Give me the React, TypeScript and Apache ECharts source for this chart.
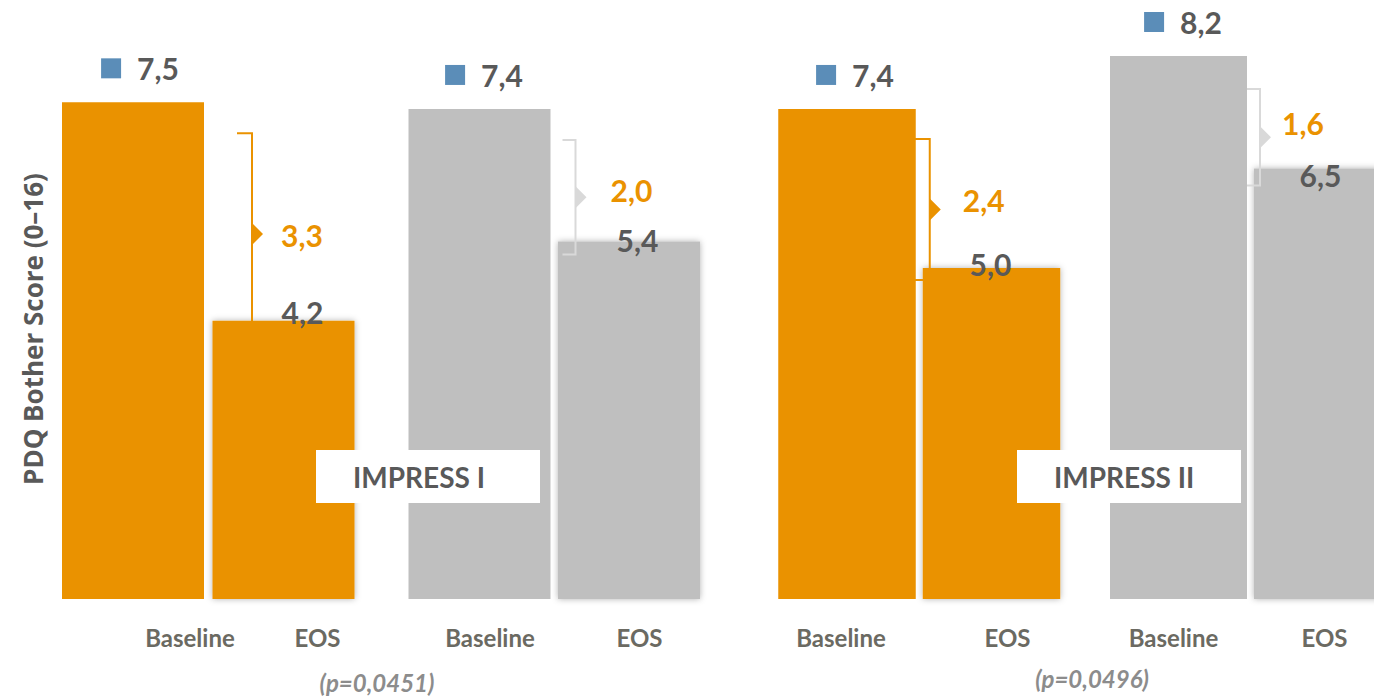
import React, { useEffect, useRef } from "react";
import * as echarts from "echarts";

// ---------- data ----------
const categories = ["Baseline", "EOS"];
const studyNames = ["IMPRESS I", "IMPRESS II"];
const pValueLabels = ["(p=0,0451)", "(p=0,0496)"];
const impress1Orange = [7.5, 4.2];
const impress1Gray = [7.4, 5.4];
const impress2Orange = [7.4, 5.0];
const impress2Gray = [8.2, 6.5];
const reductions = [3.3, 2.0, 2.4, 1.6];
const yAxisTitle = "PDQ Bother Score (0–16)";
const yMin = 0;
const yMax = 9;

// ---------- styles ----------
const ORANGE = "#EA9200";
const GRAY = "#BFBFBF";
const BLUE = "#5B8DB8";
const DARK = "#595959";
const LABEL = "#6B6A62";
const BRACKET_GRAY = "#D9D9D9";
const FONT = "Lato, 'Noto Sans', sans-serif";

const fmt = (v: number) => v.toFixed(1).replace(".", ",");

// grid spans from the first category centre to the second (boundaryGap: false)
const pairs = [
  {
    data: impress1Orange, color: ORANGE, bracketColor: ORANGE,
    left: 133, width: 150.5, barWidth: 142,
    axisLabelDx: [57, 34], baseLabelDx: 7, eosLabelOffset: [19, -9],
    br: { dx: 48, tick: 15, topPad: 31, bottomPad: 14, labelDx: 18, labelDy: 1 },
  },
  {
    data: impress1Gray, color: GRAY, bracketColor: BRACKET_GRAY,
    left: 479.5, width: 149.5, barWidth: 142,
    axisLabelDx: [10.5, 10.5], baseLabelDx: 4.5, eosLabelOffset: [8.5, -1],
    br: { dx: 25, tick: 13, topPad: 31, bottomPad: 13, labelDx: 24, labelDy: -7 },
  },
  {
    data: impress2Orange, color: ORANGE, bracketColor: ORANGE,
    left: 847, width: 144.5, barWidth: 137.5,
    axisLabelDx: [-6, 16], baseLabelDx: 8, eosLabelOffset: [-1, -3.5],
    br: { dx: 14, tick: 15, topPad: 30, bottomPad: 12, labelDx: 22, labelDy: -9 },
  },
  {
    data: impress2Gray, color: GRAY, bracketColor: BRACKET_GRAY,
    left: 1178.5, width: 144, barWidth: 137,
    axisLabelDx: [-5, 2], baseLabelDx: 4.5, eosLabelOffset: [-2, 6.5],
    br: { dx: 13, tick: 13, topPad: 33, bottomPad: 17, labelDx: 11, labelDy: -14 },
  },
];

const boxes = [
  { x: 316, y: 450, w: 224, h: 53, textX: 353 },
  { x: 1017, y: 450, w: 224, h: 53, textX: 1054 },
];
const pValuePos = [
  { x: 377, y: 682 },
  { x: 1092, y: 678 },
];

const pad = (dx: number) => (dx >= 0 ? [0, 0, 0, 2 * dx] : [0, -2 * dx, 0, 0]);

export default function App() {
  const ref = useRef<HTMLDivElement>(null);

  useEffect(() => {
    if (!ref.current) return;
    const chart = echarts.init(ref.current, undefined, { renderer: "svg" });

    const axisLabelStyle = {
      fontFamily: FONT, fontWeight: "bold" as const, fontSize: 24, color: LABEL,
    };

    const grids = pairs.map((p) => ({
      left: p.left, width: p.width, top: 3, bottom: 98, containLabel: false,
    }));

    const xAxes = pairs.map((p, gi) => ({
      type: "category" as const,
      gridIndex: gi,
      data: categories,
      boundaryGap: false,
      axisLine: { show: false },
      axisTick: { show: false },
      splitLine: { show: false },
      axisLabel: {
        interval: 0,
        margin: 26,
        formatter: (v: string, i: number) => `{l${i}|${v}}`,
        rich: {
          l0: { ...axisLabelStyle, padding: pad(p.axisLabelDx[0]) },
          l1: { ...axisLabelStyle, padding: pad(p.axisLabelDx[1]) },
        },
      },
    }));

    const yAxes = pairs.map((p, gi) => ({
      type: "value" as const,
      gridIndex: gi,
      min: yMin,
      max: yMax,
      show: gi === 0,
      axisLine: { show: false },
      axisTick: { show: false },
      axisLabel: { show: false },
      splitLine: { show: false },
      name: gi === 0 ? yAxisTitle : "",
      nameLocation: "middle" as const,
      nameRotate: 90,
      nameGap: 87,
      nameTextStyle: {
        fontFamily: "'Open Sans', sans-serif",
        fontWeight: "bold" as const,
        fontSize: 26,
        color: DARK,
        padding: [0, 56, 0, 0],
      },
    }));

    const series = pairs.map((p, gi) => ({
      type: "bar" as const,
      xAxisIndex: gi,
      yAxisIndex: gi,
      barWidth: p.barWidth,
      clip: false,
      itemStyle: { color: p.color },
      data: [
        {
          value: p.data[0],
          label: {
            show: true,
            position: "top" as const,
            distance: 19,
            offset: [p.baseLabelDx, 0],
            formatter: `{sq|}{gap|}{v|${fmt(p.data[0])}}`,
            rich: {
              sq: { width: 20, height: 20, backgroundColor: BLUE, verticalAlign: "middle" as const },
              gap: { width: 16, height: 20, verticalAlign: "middle" as const },
              v: {
                fontFamily: FONT, fontWeight: "bold" as const, fontSize: 30,
                color: DARK, lineHeight: 30, verticalAlign: "middle" as const,
              },
            },
          },
        },
        {
          value: p.data[1],
          itemStyle: { color: p.color, shadowBlur: 6, shadowColor: "rgba(0,0,0,0.3)" },
          label: {
            show: true,
            position: "top" as const,
            distance: -15,
            offset: p.eosLabelOffset,
            formatter: fmt(p.data[1]),
            fontFamily: FONT, fontWeight: "bold" as const, fontSize: 30,
            color: DARK, lineHeight: 30,
          },
        },
      ],
    }));

    chart.setOption({
      animation: false,
      backgroundColor: "#ffffff",
      grid: grids,
      xAxis: xAxes,
      yAxis: yAxes,
      series,
    });

    // annotations derived from the axes' scales
    const graphic: any[] = [];
    pairs.forEach((p, gi) => {
      const base = chart.convertToPixel({ gridIndex: gi } as any, [0, p.data[0]]) as number[];
      const eos = chart.convertToPixel({ gridIndex: gi } as any, [1, p.data[1]]) as number[];
      const barRight = base[0] + p.barWidth / 2;
      const x = barRight + p.br.dx;
      const top = base[1] + p.br.topPad;
      const bottom = eos[1] + p.br.bottomPad;
      const mid = (top + bottom) / 2;
      graphic.push({
        type: "polyline",
        z: 10,
        shape: { points: [[x - p.br.tick, top], [x, top], [x, bottom], [x - p.br.tick, bottom]] },
        style: { stroke: p.bracketColor, lineWidth: 2, fill: null },
      });
      graphic.push({
        type: "polygon",
        z: 10,
        shape: { points: [[x, mid - 11], [x + 11, mid], [x, mid + 11]] },
        style: { fill: p.bracketColor },
      });
      graphic.push({
        type: "text",
        z: 10,
        x: x + 11 + p.br.labelDx,
        y: mid + p.br.labelDy,
        style: {
          text: fmt(reductions[gi]),
          fill: ORANGE,
          fontFamily: FONT,
          fontWeight: "bold",
          fontSize: 30,
          align: "left",
          verticalAlign: "middle",
        },
      });
    });

    boxes.forEach((b, i) => {
      graphic.push({
        type: "rect",
        z: 20,
        shape: { x: b.x, y: b.y, width: b.w, height: b.h },
        style: { fill: "#ffffff" },
      });
      graphic.push({
        type: "text",
        z: 21,
        x: b.textX,
        y: b.y + b.h / 2,
        style: {
          text: studyNames[i],
          fill: DARK,
          fontFamily: FONT,
          fontWeight: "bold",
          fontSize: 28,
          align: "left",
          verticalAlign: "middle",
        },
      });
    });

    pValuePos.forEach((pp, i) => {
      graphic.push({
        type: "text",
        z: 10,
        x: pp.x,
        y: pp.y,
        style: {
          text: pValueLabels[i],
          fill: "#8C8C8C",
          fontFamily: FONT,
          fontWeight: "bold",
          fontStyle: "italic",
          fontSize: 24,
          align: "center",
          verticalAlign: "middle",
        },
      });
    });

    chart.setOption({ graphic });

    return () => chart.dispose();
  }, []);

  return (
    <div
      ref={ref}
      style={{ position: "absolute", left: 0, top: 0, width: 1374, height: 697, background: "#fff" }}
    />
  );
}
